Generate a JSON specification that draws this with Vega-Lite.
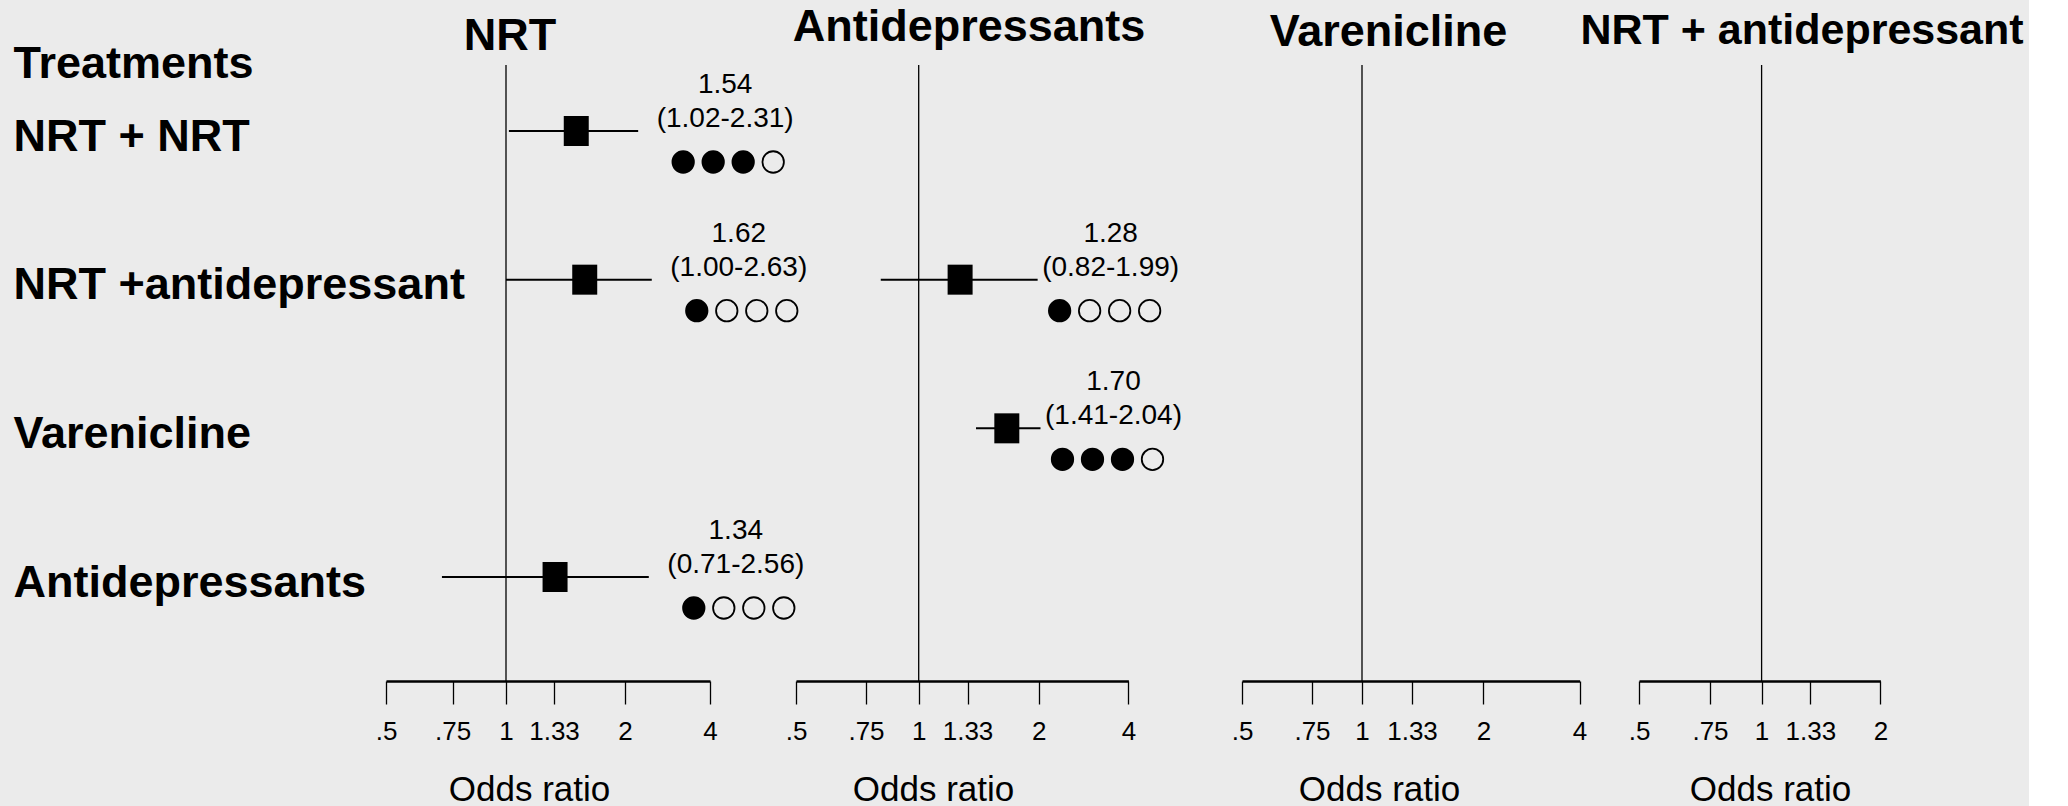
{
  "$schema": "https://vega.github.io/schema/vega-lite/v6.json",
  "background": "#EBEBEB",
  "padding": {"left": 13, "top": 5, "right": 5, "bottom": 0},
  "config": {
    "view": {"stroke": null},
    "font": "Liberation Sans",
    "title": {"fontSize": 45, "fontWeight": "bold", "color": "black", "anchor": "middle", "frame": "group", "baseline": "alphabetic"},
    "axisX": {"domainColor": "black", "domainWidth": 2.5, "tickColor": "black", "tickWidth": 1.3, "tickSize": 23, "labelFontSize": 26, "labelColor": "black", "labelPadding": 14, "labelFlush": false, "labelOverlap": false, "grid": false, "titleFontSize": 35, "titleFontWeight": "normal", "titleColor": "black", "titleBaseline": "alphabetic", "titleAlign": "center", "titleY": 119}
  },
  "datasets": {
    "comparisons": [
      {"comparator": "NRT", "treatment": "NRT + NRT", "or": 1.54, "lo": 1.02, "hi": 2.31, "grade": 3},
      {"comparator": "NRT", "treatment": "NRT +antidepressant", "or": 1.62, "lo": 1.00, "hi": 2.63, "grade": 1},
      {"comparator": "NRT", "treatment": "Antidepressants", "or": 1.34, "lo": 0.71, "hi": 2.56, "grade": 1},
      {"comparator": "Antidepressants", "treatment": "NRT +antidepressant", "or": 1.28, "lo": 0.82, "hi": 1.99, "grade": 1},
      {"comparator": "Antidepressants", "treatment": "Varenicline", "or": 1.70, "lo": 1.41, "hi": 2.04, "grade": 3}
    ],
    "null_effect": [{"or": 1}]
  },
  "bounds": "flush",
  "spacing": 0,
  "hconcat": [
    {
      "width": 410, "height": 616,
      "title": {"text": "NRT", "dx": -81, "offset": -18},
      "layer": [
        {
          "data": {"name": "null_effect"},
          "mark": {"type": "rule", "color": "black", "strokeWidth": 1.3},
          "encoding": {"x": {"field": "or", "type": "quantitative", "scale": {"type": "linear", "domain": [0.5, 0.75, 1, 1.33, 2, 4], "range": [0, 66.6, 120, 168, 239, 324], "zero": false, "nice": false}, "axis": {"values": [0.5, 0.75, 1, 1.33, 2, 4], "labelExpr": "datum.value < 1 ? slice('' + datum.value, 1) : '' + datum.value", "title": "Odds ratio", "titleX": 143}}}
        },
        {
          "data": {"name": "comparisons"},
          "transform": [
            {"filter": "datum.comparator === 'NRT'"},
            {"calculate": "'(' + format(datum.lo, '.2f') + '-' + format(datum.hi, '.2f') + ')'", "as": "ci_label"}
          ],
          "encoding": {
            "y": {"field": "treatment", "type": "nominal", "sort": null, "scale": {"type": "point", "domain": ["NRT + NRT", "NRT +antidepressant", "Varenicline", "Antidepressants"], "range": [66, 512], "padding": 0},
              "axis": {"title": "Treatments", "titleAngle": 0, "titleAlign": "left", "titleBaseline": "alphabetic", "titleX": -373, "titleY": 12, "titleFontSize": 45, "titleFontWeight": "bold", "titleColor": "black", "domain": false, "ticks": false, "tickSize": 0, "labelAlign": "left", "labelBaseline": "middle", "labelPadding": 373, "labelOffset": 5, "labelFontSize": 45, "labelFontWeight": "bold", "labelColor": "black", "labelLimit": 1000, "grid": false}},
            "x": {"field": "hi", "type": "quantitative", "scale": {"type": "linear", "domain": [0.5, 0.75, 1, 1.33, 2, 4], "range": [0, 66.6, 120, 168, 239, 324], "zero": false, "nice": false}, "axis": {"values": [0.5, 0.75, 1, 1.33, 2, 4], "labelExpr": "datum.value < 1 ? slice('' + datum.value, 1) : '' + datum.value", "title": "Odds ratio", "titleX": 143}}
          },
          "layer": [
            {"mark": {"type": "rule", "color": "black", "strokeWidth": 2},
             "encoding": {"x": {"field": "lo", "type": "quantitative", "scale": {"type": "linear", "domain": [0.5, 0.75, 1, 1.33, 2, 4], "range": [0, 66.6, 120, 168, 239, 324], "zero": false, "nice": false}, "axis": {"values": [0.5, 0.75, 1, 1.33, 2, 4], "labelExpr": "datum.value < 1 ? slice('' + datum.value, 1) : '' + datum.value", "title": "Odds ratio", "titleX": 143}}, "x2": {"field": "hi"}}},
            {"mark": {"type": "point", "shape": "M-0.833,-1H0.833V1H-0.833Z", "size": 900, "filled": true, "color": "black", "opacity": 1},
             "encoding": {"x": {"field": "or", "type": "quantitative", "scale": {"type": "linear", "domain": [0.5, 0.75, 1, 1.33, 2, 4], "range": [0, 66.6, 120, 168, 239, 324], "zero": false, "nice": false}, "axis": {"values": [0.5, 0.75, 1, 1.33, 2, 4], "labelExpr": "datum.value < 1 ? slice('' + datum.value, 1) : '' + datum.value", "title": "Odds ratio", "titleX": 143}}}},
            {"mark": {"type": "text", "fontSize": 28, "align": "center", "baseline": "alphabetic", "dx": 87, "dy": -38, "color": "black"},
             "encoding": {"text": {"field": "or", "type": "quantitative", "format": ".2f"}}},
            {"mark": {"type": "text", "fontSize": 28, "align": "center", "baseline": "alphabetic", "dx": 87, "dy": -4, "color": "black"},
             "encoding": {"text": {"field": "ci_label", "type": "nominal"}}},
            {"mark": {"type": "point", "shape": "circle", "size": 460, "stroke": "black", "strokeWidth": 1.8, "opacity": 1, "xOffset": 45, "yOffset": 31},
             "encoding": {"fill": {"condition": {"test": "datum.grade >= 1", "value": "black"}, "value": "transparent"}}},
            {"mark": {"type": "point", "shape": "circle", "size": 460, "stroke": "black", "strokeWidth": 1.8, "opacity": 1, "xOffset": 75, "yOffset": 31},
             "encoding": {"fill": {"condition": {"test": "datum.grade >= 2", "value": "black"}, "value": "transparent"}}},
            {"mark": {"type": "point", "shape": "circle", "size": 460, "stroke": "black", "strokeWidth": 1.8, "opacity": 1, "xOffset": 105, "yOffset": 31},
             "encoding": {"fill": {"condition": {"test": "datum.grade >= 3", "value": "black"}, "value": "transparent"}}},
            {"mark": {"type": "point", "shape": "circle", "size": 460, "stroke": "black", "strokeWidth": 1.8, "opacity": 1, "xOffset": 135, "yOffset": 31},
             "encoding": {"fill": {"condition": {"test": "datum.grade >= 4", "value": "black"}, "value": "transparent"}}}
          ]
        }
      ]
    },
    {
      "width": 446, "height": 616,
      "title": {"text": "Antidepressants", "dx": -50, "offset": 14},
      "layer": [
        {
          "data": {"name": "null_effect"},
          "mark": {"type": "rule", "color": "black", "strokeWidth": 1.3},
          "encoding": {"x": {"field": "or", "type": "quantitative", "scale": {"type": "linear", "domain": [0.5, 0.75, 1, 1.33, 2, 4], "range": [0, 70, 122.7, 171.5, 242.7, 332.4], "zero": false, "nice": false}, "axis": {"values": [0.5, 0.75, 1, 1.33, 2, 4], "labelExpr": "datum.value < 1 ? slice('' + datum.value, 1) : '' + datum.value", "title": "Odds ratio", "titleX": 137}}}
        },
        {
          "data": {"name": "comparisons"},
          "transform": [
            {"filter": "datum.comparator === 'Antidepressants'"},
            {"calculate": "'(' + format(datum.lo, '.2f') + '-' + format(datum.hi, '.2f') + ')'", "as": "ci_label"}
          ],
          "encoding": {
            "y": {"field": "treatment", "type": "nominal", "sort": null, "scale": {"type": "point", "domain": ["NRT + NRT", "NRT +antidepressant", "Varenicline", "Antidepressants"], "range": [66, 512], "padding": 0}, "axis": null},
            "x": {"field": "hi", "type": "quantitative", "scale": {"type": "linear", "domain": [0.5, 0.75, 1, 1.33, 2, 4], "range": [0, 70, 122.7, 171.5, 242.7, 332.4], "zero": false, "nice": false}, "axis": {"values": [0.5, 0.75, 1, 1.33, 2, 4], "labelExpr": "datum.value < 1 ? slice('' + datum.value, 1) : '' + datum.value", "title": "Odds ratio", "titleX": 137}}
          },
          "layer": [
            {"mark": {"type": "rule", "color": "black", "strokeWidth": 2},
             "encoding": {"x": {"field": "lo", "type": "quantitative", "scale": {"type": "linear", "domain": [0.5, 0.75, 1, 1.33, 2, 4], "range": [0, 70, 122.7, 171.5, 242.7, 332.4], "zero": false, "nice": false}, "axis": {"values": [0.5, 0.75, 1, 1.33, 2, 4], "labelExpr": "datum.value < 1 ? slice('' + datum.value, 1) : '' + datum.value", "title": "Odds ratio", "titleX": 137}}, "x2": {"field": "hi"}}},
            {"mark": {"type": "point", "shape": "M-0.833,-1H0.833V1H-0.833Z", "size": 900, "filled": true, "color": "black", "opacity": 1},
             "encoding": {"x": {"field": "or", "type": "quantitative", "scale": {"type": "linear", "domain": [0.5, 0.75, 1, 1.33, 2, 4], "range": [0, 70, 122.7, 171.5, 242.7, 332.4], "zero": false, "nice": false}, "axis": {"values": [0.5, 0.75, 1, 1.33, 2, 4], "labelExpr": "datum.value < 1 ? slice('' + datum.value, 1) : '' + datum.value", "title": "Odds ratio", "titleX": 137}}}},
            {"mark": {"type": "text", "fontSize": 28, "align": "center", "baseline": "alphabetic", "dx": 73, "dy": -38, "color": "black"},
             "encoding": {"text": {"field": "or", "type": "quantitative", "format": ".2f"}}},
            {"mark": {"type": "text", "fontSize": 28, "align": "center", "baseline": "alphabetic", "dx": 73, "dy": -4, "color": "black"},
             "encoding": {"text": {"field": "ci_label", "type": "nominal"}}},
            {"mark": {"type": "point", "shape": "circle", "size": 460, "stroke": "black", "strokeWidth": 1.8, "opacity": 1, "xOffset": 22, "yOffset": 31},
             "encoding": {"fill": {"condition": {"test": "datum.grade >= 1", "value": "black"}, "value": "transparent"}}},
            {"mark": {"type": "point", "shape": "circle", "size": 460, "stroke": "black", "strokeWidth": 1.8, "opacity": 1, "xOffset": 52, "yOffset": 31},
             "encoding": {"fill": {"condition": {"test": "datum.grade >= 2", "value": "black"}, "value": "transparent"}}},
            {"mark": {"type": "point", "shape": "circle", "size": 460, "stroke": "black", "strokeWidth": 1.8, "opacity": 1, "xOffset": 82, "yOffset": 31},
             "encoding": {"fill": {"condition": {"test": "datum.grade >= 3", "value": "black"}, "value": "transparent"}}},
            {"mark": {"type": "point", "shape": "circle", "size": 460, "stroke": "black", "strokeWidth": 1.8, "opacity": 1, "xOffset": 112, "yOffset": 31},
             "encoding": {"fill": {"condition": {"test": "datum.grade >= 4", "value": "black"}, "value": "transparent"}}}
          ]
        }
      ]
    },
    {
      "width": 397, "height": 616,
      "title": {"text": "Varenicline", "dx": -52, "offset": 9},
      "data": {"name": "null_effect"},
      "mark": {"type": "rule", "color": "black", "strokeWidth": 1.3},
      "encoding": {"x": {"field": "or", "type": "quantitative", "scale": {"type": "linear", "domain": [0.5, 0.75, 1, 1.33, 2, 4], "range": [0, 70, 120, 170, 241.4, 337.6], "zero": false, "nice": false}, "axis": {"values": [0.5, 0.75, 1, 1.33, 2, 4], "labelExpr": "datum.value < 1 ? slice('' + datum.value, 1) : '' + datum.value", "title": "Odds ratio", "titleX": 137}}}
    },
    {
      "width": 260, "height": 616,
      "title": {"text": "NRT + antidepressant", "dx": 33, "offset": 11, "fontSize": 43},
      "data": {"name": "null_effect"},
      "mark": {"type": "rule", "color": "black", "strokeWidth": 1.3},
      "encoding": {"x": {"field": "or", "type": "quantitative", "scale": {"type": "linear", "domain": [0.5, 0.75, 1, 1.33, 2], "range": [0, 71, 122.6, 171.4, 241.4], "zero": false, "nice": false}, "axis": {"values": [0.5, 0.75, 1, 1.33, 2], "labelExpr": "datum.value < 1 ? slice('' + datum.value, 1) : '' + datum.value", "title": "Odds ratio", "titleX": 131}}}
    }
  ]
}
